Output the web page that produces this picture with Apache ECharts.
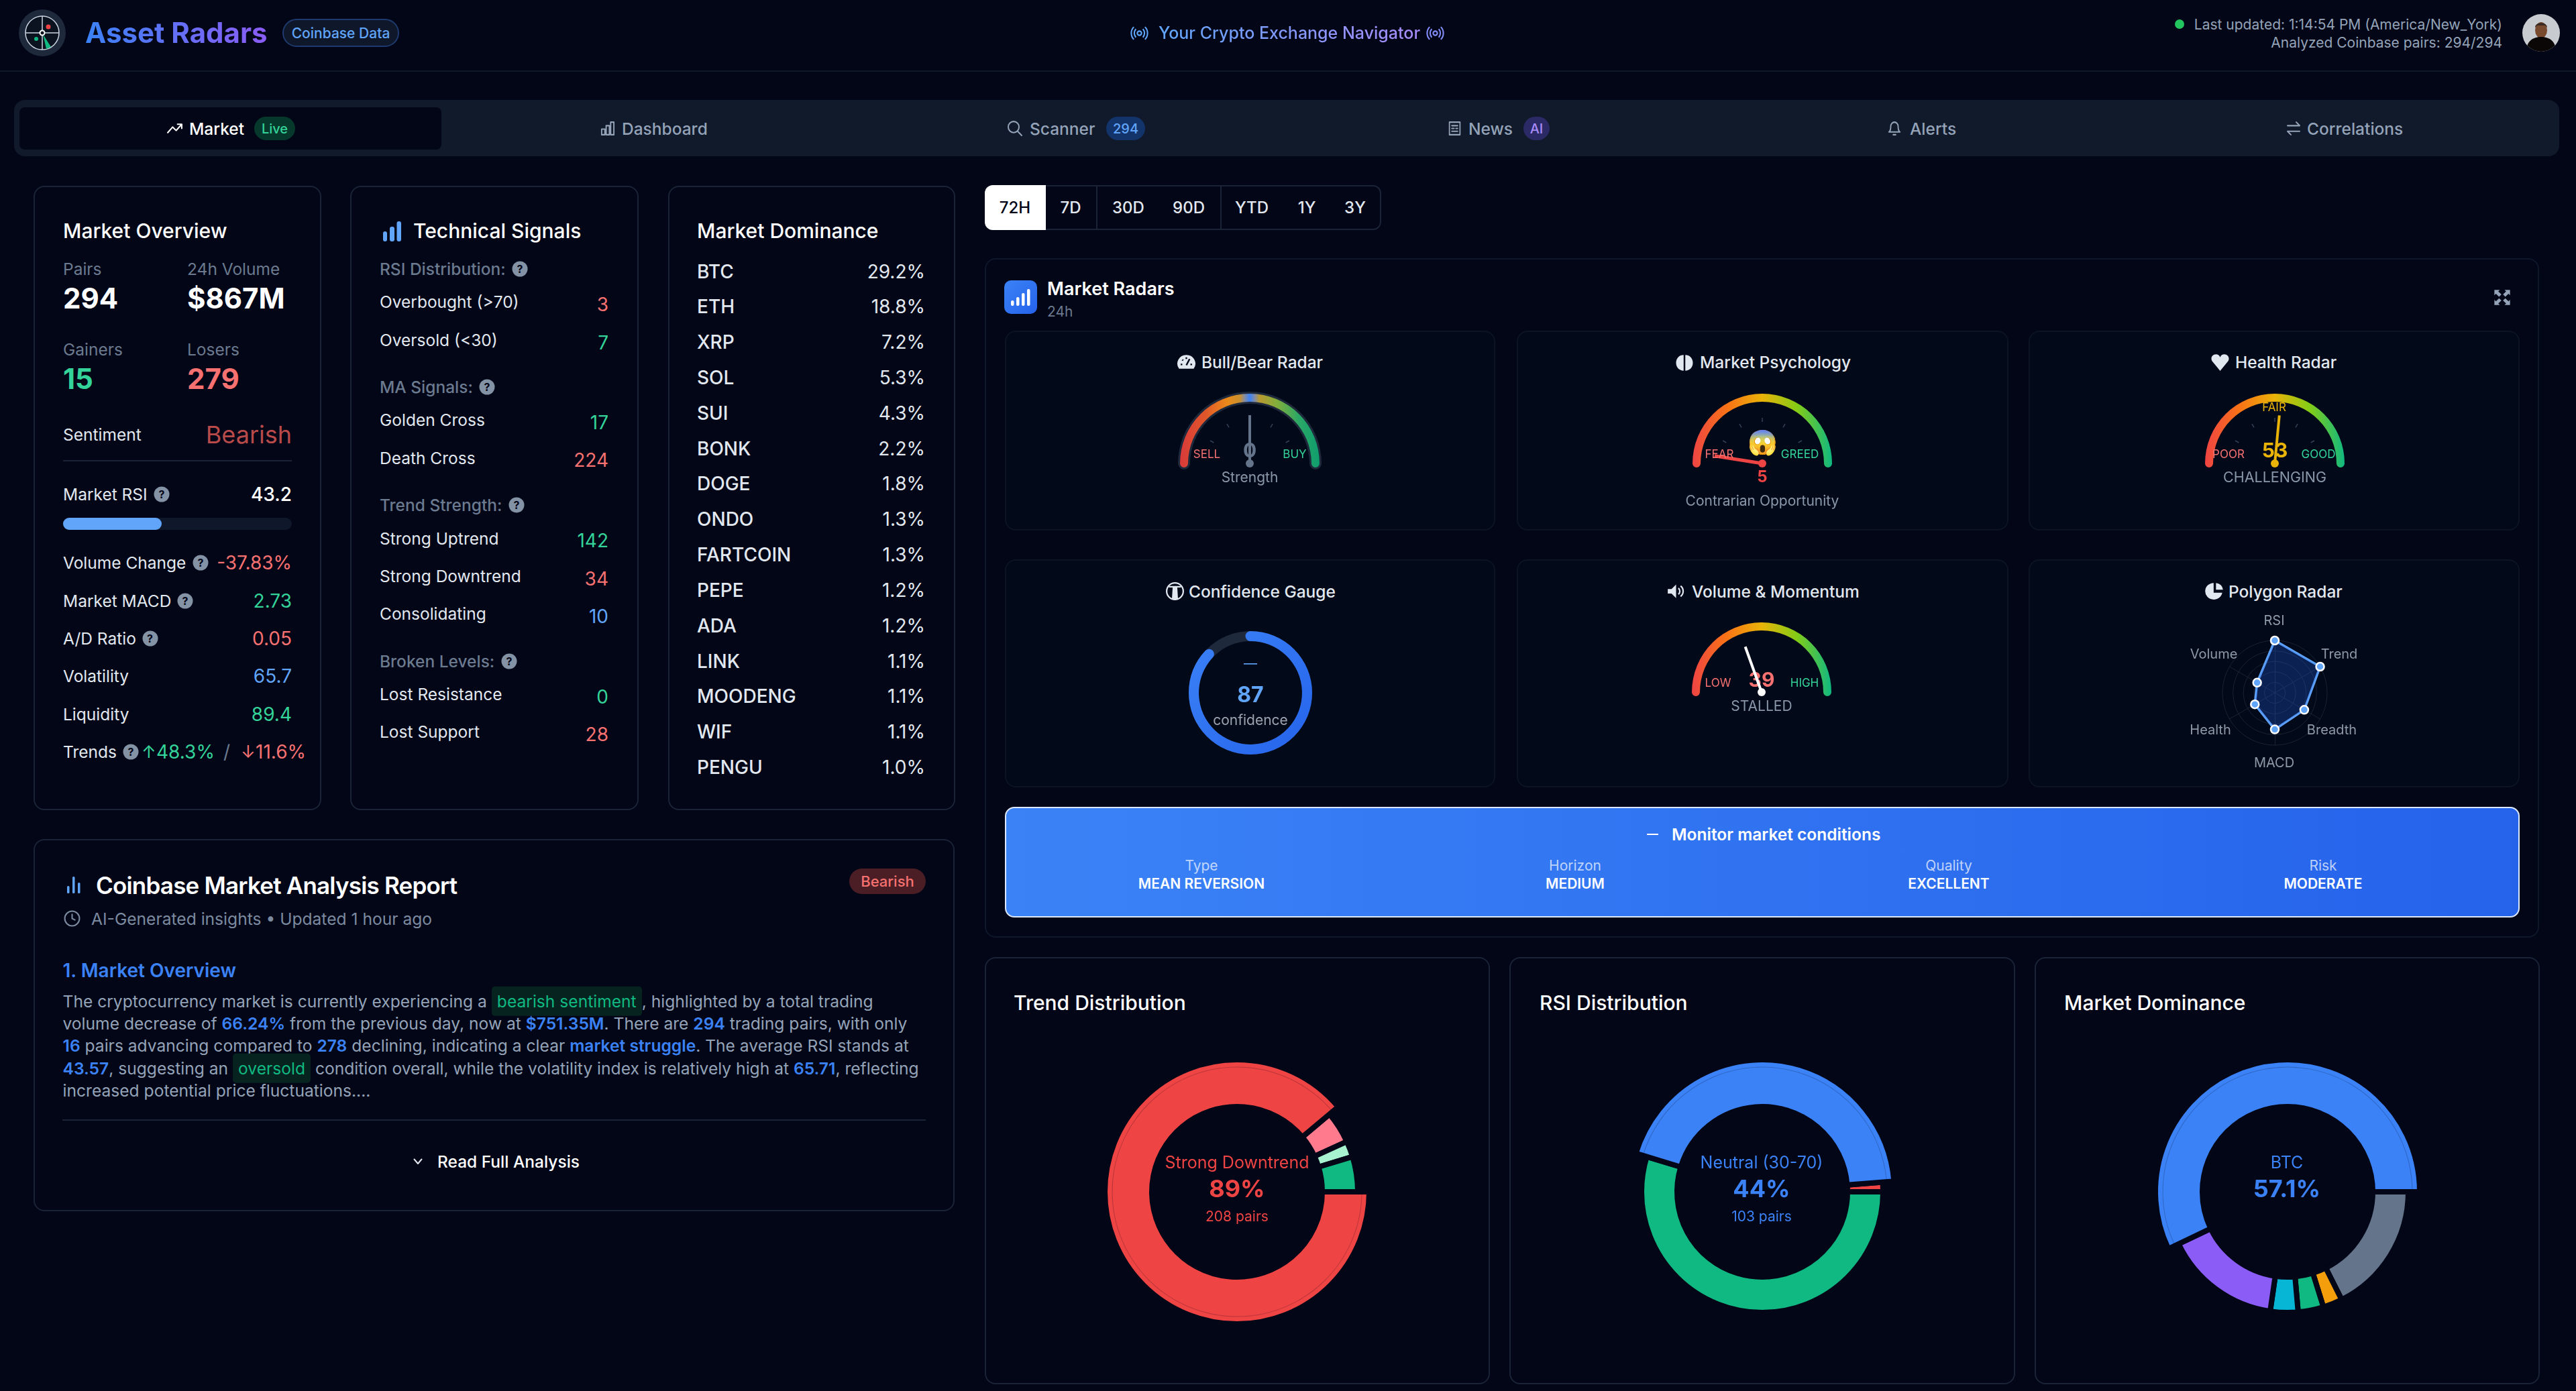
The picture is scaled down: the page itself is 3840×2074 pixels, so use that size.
<!DOCTYPE html>
<html>
<head>
<meta charset="utf-8">
<title>Asset Radars</title>
<script src="https://cdn.jsdelivr.net/npm/echarts@6/dist/echarts.min.js"></script>
<style>
  html, body { margin: 0; padding: 0; background: #020617; }
  body { width: 3840px; height: 2074px; position: relative; overflow: hidden; font-family: Inter, "Noto Sans", sans-serif; color: #e2e8f0; }
  #chrome, #charts { position: absolute; left: 0; top: 0; width: 3840px; height: 2074px; }
  #charts { pointer-events: none; }
  .t { position: absolute; white-space: nowrap; line-height: 1; }
  .box { position: absolute; box-sizing: border-box; }
  .card { border: 2px solid #1a2436; border-radius: 16px; }
  .sub { border: 2px solid #0c1424; border-radius: 16px; background: #020a1a; }
  .help { position: absolute; width: 23px; height: 23px; border-radius: 50%; background: #8492a6; color: #020617; font-size: 16px; font-weight: 700; text-align: center; line-height: 23px; transform: translate(-50%, -50%); }
  .grad { background: linear-gradient(90deg, #3b82f6, #8b5cf6); -webkit-background-clip: text; background-clip: text; color: transparent; }
  .b { color: #3b82f6; font-weight: 600; }
  .g { color: #10b981; background: #07231f; padding: 7px 8px; border-radius: 5px; margin: 0; }
  svg { position: absolute; overflow: visible; }
</style>
</head>
<body>
<div id="chrome"></div>
<div id="charts"></div>
<script>
// ---- data ----
var tabNames = ['Market', 'Dashboard', 'Scanner', 'News', 'Alerts', 'Correlations'];
var rangeNames = ['72H', '7D', '30D', '90D', 'YTD', '1Y', '3Y'];

var overviewLabels = ['Volume Change', 'Market MACD', 'A/D Ratio', 'Volatility', 'Liquidity'];
var overviewValues = ['-37.83%', '2.73', '0.05', '65.7', '89.4'];

var signalLabels = ['Overbought (>70)', 'Oversold (<30)', 'Golden Cross', 'Death Cross', 'Strong Uptrend', 'Strong Downtrend', 'Consolidating', 'Lost Resistance', 'Lost Support'];
var signalValues = [3, 7, 17, 224, 142, 34, 10, 0, 28];

var dominanceCoins = ['BTC', 'ETH', 'XRP', 'SOL', 'SUI', 'BONK', 'DOGE', 'ONDO', 'FARTCOIN', 'PEPE', 'ADA', 'LINK', 'MOODENG', 'WIF', 'PENGU'];
var dominanceShares = ['29.2%', '18.8%', '7.2%', '5.3%', '4.3%', '2.2%', '1.8%', '1.3%', '1.3%', '1.2%', '1.2%', '1.1%', '1.1%', '1.1%', '1.0%'];

var bullBearStrength = 0;
var psychologyValue = 5;
var healthValue = 53;
var confidenceValue = 87;
var volumeValue = 39;

var polygonAxes = ['RSI', 'Volume', 'Health', 'MACD', 'Breadth', 'Trend'];
var polygonValues = [100, 39, 44, 70, 65, 100];

var trendNames = ['Strong Downtrend', 'Downtrend', 'Uptrend', 'Strong Uptrend'];
var trendPairs = [208, 10, 5, 11];
var rsiNames = ['Oversold (<30)', 'Neutral (30-70)', 'Overbought (>70)'];
var rsiPairs = [128, 103, 3];
var shareNames = ['Others', 'SUI', 'SOL', 'XRP', 'ETH', 'BTC'];
var shareValues = [17.6, 2.6, 3.4, 3.7, 15.6, 57.1];

var actionLabels = ['Type', 'Horizon', 'Quality', 'Risk'];
var actionValues = ['MEAN REVERSION', 'MEDIUM', 'EXCELLENT', 'MODERATE'];

// ---- page chrome ----
var chrome = document.getElementById('chrome');
var RED = '#f87171', GREEN = '#34d399', BLUE = '#60a5fa', MUTED = '#6b7a8f';

function box(x, y, x2, y2, cls, css) {
  var d = document.createElement('div');
  d.className = 'box ' + (cls || '');
  d.style.cssText = 'left:' + x + 'px;top:' + y + 'px;width:' + (x2 - x) + 'px;height:' + (y2 - y) + 'px;' + (css || '');
  chrome.appendChild(d);
  return d;
}
// a = l / c / r, y is the vertical middle of the text
function t(x, y, str, size, color, weight, a, css) {
  var d = document.createElement('div');
  d.className = 't';
  var tx = a === 'r' ? '-100%' : a === 'c' ? '-50%' : '0';
  d.style.cssText = 'left:' + x + 'px;top:' + y + 'px;font-size:' + size + 'px;color:' + color + ';font-weight:' + (weight || 400) + ';transform:translate(' + tx + ',-50%);' + (css || '');
  d.innerHTML = str;
  chrome.appendChild(d);
  return d;
}
function help(x, y) {
  var d = document.createElement('div');
  d.className = 'help';
  d.style.left = x + 'px';
  d.style.top = y + 'px';
  d.textContent = '?';
  chrome.appendChild(d);
}
function icon(x, y, w, h, vb, inner) {
  var d = document.createElementNS('http://www.w3.org/2000/svg', 'svg');
  d.setAttribute('viewBox', vb);
  d.setAttribute('preserveAspectRatio', 'none');
  d.style.cssText = 'left:' + x + 'px;top:' + y + 'px;width:' + w + 'px;height:' + h + 'px;';
  d.innerHTML = inner;
  chrome.appendChild(d);
}
function esc(s) { return s.replace(/</g, '&lt;').replace(/>/g, '&gt;'); }

// header
icon(28, 14, 70, 70, '0 0 70 70',
  '<circle cx="35" cy="35" r="35" fill="#1e293b"/><circle cx="35" cy="35" r="25" fill="#0b1220" stroke="#cbd5e1" stroke-width="1.5"/>' +
  '<path d="M10 35H60M35 10V60" stroke="#cbd5e1" stroke-width="1.5"/><path d="M36 37L48 56L41 59Z" fill="#10b981"/>' +
  '<circle cx="44" cy="26" r="3.5" fill="#ef4444"/><circle cx="26" cy="44" r="3" fill="#10b981"/><circle cx="35" cy="35" r="3.5" fill="#0b1220" stroke="#fff" stroke-width="2"/>');
t(127, 49, 'Asset Radars', 42, '', 700, 'l').classList.add('grad');
box(421, 28, 595, 70, '', 'border:2px solid #1e3a6e;border-radius:21px;background:#0f172a;');
t(508, 49, 'Coinbase Data', 21, BLUE, 500, 'c');
var wave = '<path d="M12 12m-3 0a3 3 0 1 0 6 0a3 3 0 1 0-6 0M7 6a9 9 0 0 0 0 12M17 6a9 9 0 0 1 0 12M4 3a13 13 0 0 0 0 18M20 3a13 13 0 0 1 0 18" fill="none" stroke-width="2" ';
icon(1686, 37, 25, 25, '0 0 24 24', wave + 'stroke="#60a5fa"/>');
icon(2127, 37, 25, 25, '0 0 24 24', wave + 'stroke="#818cf8"/>');
t(1727, 49, 'Your Crypto Exchange Navigator', 25, '', 500, 'l', 'background:linear-gradient(90deg,#60a5fa,#a78bfa);-webkit-background-clip:text;background-clip:text;color:transparent;line-height:1.3;');
box(3242, 29, 3256, 43, '', 'border-radius:50%;background:#22c55e;');
t(3730, 36, 'Last updated: 1:14:54 PM (America/New_York)', 21, '#94a3b8', 400, 'r');
t(3730, 63, 'Analyzed Coinbase pairs: 294/294', 21, '#94a3b8', 400, 'r');
icon(3760, 21, 56, 56, '0 0 56 56', '<defs><clipPath id="av"><circle cx="28" cy="28" r="28"/></clipPath></defs><g clip-path="url(#av)"><rect width="56" height="56" fill="#c8ccd0"/><ellipse cx="28" cy="24" rx="9" ry="12" fill="#7a4a2e"/><path d="M19 20c0-9 18-9 18 0l-3-3H22z" fill="#3a2a22"/><path d="M6 56c0-16 10-22 22-22s22 6 22 22z" fill="#0a0706"/></g>');
box(0, 105, 3840, 107, '', 'background:#111827;');

// tabs
box(21, 149, 3815, 233, '', 'background:#111a2b;border-radius:16px;');
box(29, 160, 658, 223, '', 'background:#020617;border-radius:8px;');
var tabColor = '#94a3b8';
var tabX = [282, 927, 1535, 2189, 2847, 3439];
for (var i = 0; i < tabNames.length; i++) {
  t(tabX[i], 192, tabNames[i], 24.5, i === 0 ? '#fff' : tabColor, 500, 'l');
}
var line = 'fill="none" stroke-width="2" stroke-linecap="round" stroke-linejoin="round" ';
icon(248, 179, 25, 25, '0 0 24 24', '<path d="M2 18l7-8 5 5 8-9M16 6h6v6" ' + line + 'stroke="#fff"/>');
icon(894, 179, 23, 25, '0 0 24 24', '<path d="M3 21V13h5v8zM10 21V8h5v13zM17 21V3h5v18z" ' + line + 'stroke="' + tabColor + '"/>');
icon(1501, 179, 24, 25, '0 0 24 24', '<circle cx="10" cy="10" r="8" ' + line + 'stroke="' + tabColor + '"/><path d="M16 16l6 6" ' + line + 'stroke="' + tabColor + '"/>');
icon(2158, 179, 21, 25, '0 0 24 24', '<path d="M3 3h18v18H3zM7 8h10M7 12h4M14 12h3M7 16h10" ' + line + 'stroke="' + tabColor + '"/>');
icon(2813, 179, 22, 25, '0 0 24 24', '<path d="M6 9a6 6 0 0 1 12 0c0 7 3 8 3 8H3s3-1 3-8M10 21h4" ' + line + 'stroke="' + tabColor + '"/>');
icon(3407, 179, 24, 25, '0 0 24 24', '<path d="M3 8h18l-5-5M21 16H3l5 5" ' + line + 'stroke="' + tabColor + '"/>');
box(379, 174, 440, 209, '', 'background:#06382c;border-radius:18px;');
t(409.5, 192, 'Live', 20, GREEN, 500, 'c');
box(1649, 174, 1707, 209, '', 'background:#13336b;border-radius:18px;');
t(1678, 192, '294', 20, BLUE, 500, 'c');
box(2271, 174, 2310, 209, '', 'background:#2c2a66;border-radius:18px;');
t(2290.5, 192, 'AI', 20, '#a78bfa', 500, 'c');

// market overview card
box(50, 277, 479, 1208, 'card');
t(94, 344, 'Market Overview', 30, '#fff', 500);
t(94, 401, 'Pairs', 24.5, MUTED);
t(279, 401, '24h Volume', 24.5, MUTED);
t(94, 445, '294', 42, '#fff', 700);
t(279, 445, '$867M', 42, '#fff', 700);
t(94, 521, 'Gainers', 24.5, MUTED);
t(279, 521, 'Losers', 24.5, MUTED);
t(94, 565, '15', 42, GREEN, 700);
t(279, 565, '279', 42, RED, 700);
t(94, 648, 'Sentiment', 24.5, '#e2e8f0');
t(435, 648, 'Bearish', 36, '#b94a4a', 400, 'r');
box(94, 686, 435, 688, '', 'background:#1a2436;');
t(94, 737, 'Market RSI', 24.5, '#e2e8f0');
help(241, 737);
t(435, 737, '43.2', 28, '#fff', 500, 'r');
box(94, 772, 435, 790, '', 'background:#0f172a;border-radius:9px;');
box(94, 772, 241, 790, '', 'background:#60a5fa;border-radius:9px;');
var overviewY = [839, 896, 952, 1008, 1065];
var overviewColors = [RED, GREEN, RED, BLUE, GREEN];
for (i = 0; i < overviewLabels.length; i++) {
  t(94, overviewY[i], overviewLabels[i], 24.5, '#e2e8f0');
  t(435, overviewY[i], overviewValues[i], 28, overviewColors[i], 400, 'r');
}
help(299, 839); help(276, 896); help(223.5, 952); help(195, 1121);
t(94, 1121, 'Trends', 24.5, '#e2e8f0');
t(211, 1121, '↑', 26, GREEN);
t(233, 1121, '48.3%', 28, GREEN);
t(338, 1121, '/', 28, MUTED, 400, 'c');
t(359, 1121, '↓', 26, RED);
t(381, 1121, '11.6%', 28, RED);

// technical signals card
box(522, 277, 952, 1208, 'card');
icon(571, 330, 27, 30, '0 0 27 30', '<rect x="0" y="15" width="6" height="15" rx="3" fill="#60a5fa"/><rect x="10" y="8" width="7" height="22" rx="3" fill="#60a5fa"/><rect x="20.5" y="0" width="6.5" height="30" rx="3" fill="#60a5fa"/>');
t(616, 344, 'Technical Signals', 30, '#fff', 500);
var signalHeads = ['RSI Distribution:', 'MA Signals:', 'Trend Strength:', 'Broken Levels:'];
var headY = [401, 577, 753, 986];
var headIcon = [775, 726, 770, 759];
for (i = 0; i < signalHeads.length; i++) {
  t(566, headY[i], signalHeads[i], 24.5, MUTED, 500);
  help(headIcon[i], headY[i]);
}
var signalY = [450, 507, 626, 682.5, 802.5, 859, 915, 1035, 1091];
var signalColors = [RED, GREEN, GREEN, RED, GREEN, RED, BLUE, GREEN, RED];
for (i = 0; i < signalLabels.length; i++) {
  t(566, signalY[i], esc(signalLabels[i]), 24.5, '#e2e8f0');
  t(907, signalY[i] + 3.5, String(signalValues[i]), 28, signalColors[i], 400, 'r');
}

// market dominance card
box(996, 277, 1424, 1208, 'card');
t(1039, 344, 'Market Dominance', 30, '#fff', 500);
for (i = 0; i < dominanceCoins.length; i++) {
  var rowY = 404.5 + i * 52.83;
  t(1039, rowY, dominanceCoins[i], 28, '#e2e8f0', 500);
  t(1379, rowY, dominanceShares[i], 28, '#e2e8f0', 400, 'r');
}

// report card
box(50, 1251, 1423, 1806, 'card');
icon(100, 1307, 20, 25, '0 0 20 25', '<rect x="0" y="14" width="3.5" height="11" rx="1.5" fill="#60a5fa"/><rect x="8" y="0" width="3.5" height="25" rx="1.5" fill="#60a5fa"/><rect x="16" y="9" width="3.5" height="16" rx="1.5" fill="#60a5fa"/>');
t(143, 1319.5, 'Coinbase Market Analysis Report', 35, '#fff', 600, 'l', 'letter-spacing:-0.8px;');
box(1266, 1295, 1380, 1333, '', 'background:#4a1e24;border-radius:19px;');
t(1323, 1314, 'Bearish', 22, RED, 500, 'c');
icon(95, 1357, 25, 25, '0 0 24 24', '<circle cx="12" cy="12" r="10.5" ' + line + 'stroke="#7c8aa0"/><path d="M12 6v6l4 2" ' + line + 'stroke="#7c8aa0"/>');
t(136, 1369.5, 'AI-Generated insights • Updated 1 hour ago', 24.6, '#7c8aa0');
t(93.5, 1446.5, '1. Market Overview', 28, '#3b82f6', 600);
var reportLines = [
  'The cryptocurrency market is currently experiencing a <span class="g">bearish sentiment</span>, highlighted by a total trading',
  'volume decrease of <span class="b">66.24%</span> from the previous day, now at <span class="b">$751.35M</span>. There are <span class="b">294</span> trading pairs, with only',
  '<span class="b">16</span> pairs advancing compared to <span class="b">278</span> declining, indicating a clear <span class="b">market struggle</span>. The average RSI stands at',
  '<span class="b">43.57</span>, suggesting an <span class="g">oversold</span> condition overall, while the volatility index is relatively high at <span class="b">65.71</span>, reflecting',
  'increased potential price fluctuations....'
];
var reportY = [1492.7, 1526, 1559.3, 1592.7, 1626];
for (i = 0; i < reportLines.length; i++) {
  t(93.5, reportY[i], reportLines[i], 24.6, '#94a3b8');
}
box(93, 1669, 1380, 1671, '', 'background:#1a2436;');
icon(616, 1727, 14, 10, '0 0 14 10', '<path d="M1.5 1.5L7 8l5.5-6.5" ' + line + 'stroke="#e2e8f0"/>');
t(652, 1732, 'Read Full Analysis', 24.5, '#fff', 500);

// time range buttons
box(1468, 276, 2059, 343, '', 'border:2px solid #1a2436;border-radius:12px;');
box(1468, 276, 1559, 343, '', 'background:#fff;border-radius:12px 0 0 12px;');
box(1634, 277, 1636, 342, '', 'background:#1a2436;');
box(1819, 277, 1821, 342, '', 'background:#1a2436;');
var rangeX = [1513, 1596, 1682, 1772, 1866, 1948, 2020];
for (i = 0; i < rangeNames.length; i++) {
  t(rangeX[i], 310, rangeNames[i], 24, i === 0 ? '#020617' : '#e2e8f0', 500, 'c');
}

// market radars panel
box(1468, 385, 3785, 1398, '', 'border:2px solid #0f172a;border-radius:16px;');
box(1497, 418, 1546, 468, '', 'background:linear-gradient(135deg,#3b82f6,#2563eb);border-radius:10px;');
icon(1507, 431, 29, 25, '0 0 29 25', '<rect x="0" y="17" width="4.5" height="8" rx="2" fill="#fff"/><rect x="8" y="12" width="4.5" height="13" rx="2" fill="#fff"/><rect x="16" y="6" width="4.5" height="19" rx="2" fill="#fff"/><rect x="24" y="0" width="4.5" height="25" rx="2" fill="#fff"/>');
t(1561, 430, 'Market Radars', 27, '#fff', 600);
t(1561, 464, '24h', 21, MUTED);
icon(3716, 430, 28, 27, '0 0 24 24', '<path d="M2 2h7L7 4l4 4-3 3-4-4-2 2zM22 2v7l-2-2-4 4-3-3 4-4-2-2zM2 22v-7l2 2 4-4 3 3-4 4 2 2zM22 22h-7l2-2-4-4 3-3 4 4 2-2z" fill="#94a3b8"/>');

var subX = [[1498, 2229], [2261, 2994], [3024, 3756]];
var subY = [[493, 791], [834, 1174]];
var subTitles = [['Bull/Bear Radar', 'Market Psychology', 'Health Radar'], ['Confidence Gauge', 'Volume &amp; Momentum', 'Polygon Radar']];
var titleX = [[1791, 2534, 3332], [1772, 2522, 3322]];
var titleY = [540, 882];
var titleColor = '#e2e8f0';
for (var r = 0; r < 2; r++) {
  for (var c = 0; c < 3; c++) {
    box(subX[c][0], subY[r][0], subX[c][1], subY[r][1], 'sub');
    t(titleX[r][c], titleY[r], subTitles[r][c], 24.5, titleColor, 500);
  }
}
var fill = 'fill="' + titleColor + '"';
icon(1754, 527, 29, 28, '0 0 24 24', '<path d="M12 2a11 11 0 0 0-9 17.5h18A11 11 0 0 0 12 2z" ' + fill + '/><path d="M12 15l4-8M5 14h2M17 14h2M7 8l1 1M12 5v2" stroke="#020617" stroke-width="2"/>');
icon(2496, 527, 30, 28, '0 0 24 24', '<path d="M11 2C6 2 2 6 2 12s4 10 9 10zM13 2c5 0 9 4 9 10s-4 10-9 10z" ' + fill + '/>');
icon(3295, 527, 29, 27, '0 0 24 24', '<path d="M12 23L2 10C0 6 2 1 7 1c2 0 4 1 5 4 1-3 3-4 5-4 5 0 7 5 5 9z" ' + fill + '/>');
icon(1738, 868, 27, 27, '0 0 24 24', '<circle cx="12" cy="12" r="11" fill="none" stroke="' + titleColor + '" stroke-width="2"/><path d="M4 6h16M10 6h4l1 16H9z" ' + fill + ' stroke="' + titleColor + '" stroke-width="2"/>');
icon(2485, 868, 27, 27, '0 0 24 24', '<path d="M1 9h5l6-6v18l-6-6H1z" ' + fill + '/><path d="M15 8a5 5 0 0 1 0 8M18 5a9 9 0 0 1 0 14" fill="none" stroke="' + titleColor + '" stroke-width="2"/>');
icon(3287, 868, 28, 27, '0 0 24 24', '<path d="M11 1a11 11 0 1 0 11 13H11zM14 1v9h9A10 10 0 0 0 14 1z" ' + fill + '/>');

// action banner
box(1498, 1203, 3756, 1368, '', 'background:linear-gradient(90deg,#3b82f6,#2563eb);border:2px solid #dbe7fb;border-radius:14px;');
box(2455, 1243, 2472, 1245, '', 'background:#fff;');
t(2492, 1244, 'Monitor market conditions', 24.5, '#fff', 600);
var actionX = [1791, 2348, 2905, 3463];
for (i = 0; i < actionLabels.length; i++) {
  t(actionX[i], 1290, actionLabels[i], 21, 'rgba(255,255,255,0.7)', 400, 'c');
  t(actionX[i], 1317, actionValues[i], 21, '#fff', 600, 'c');
}

// distribution cards
var distX = [[1468, 2221], [2250, 3004], [3033, 3786]];
var distTitles = ['Trend Distribution', 'RSI Distribution', 'Market Dominance'];
var distTitleX = [1511, 2295, 3077];
for (i = 0; i < 3; i++) {
  box(distX[i][0], 1427, distX[i][1], 2064, 'card');
  t(distTitleX[i], 1495, distTitles[i], 30, '#fff', 500);
}

// ---- charts, all on one canvas over the page ----
var chart = echarts.init(document.getElementById('charts'), null, { width: 3840, height: 2074 });
var LG = echarts.graphic.LinearGradient;

function stops(list) {
  return new LG(0, 0, 1, 0, list.map(function (s) { return { offset: s[0], color: s[1] }; }));
}
var heat = stops([[0, '#ef4444'], [0.25, '#f97316'], [0.5, '#eab308'], [0.75, '#84cc16'], [1, '#10b981']]);
var bullHeat = stops([[0, '#d93a3a'], [0.18, '#e0562a'], [0.34, '#ea8a1a'], [0.43, '#c9902f'], [0.46, '#8a8d9a'], [0.5, '#3b82f6'], [0.54, '#8a8d9a'], [0.57, '#b99a30'], [0.7, '#7fae3c'], [0.85, '#2ba866'], [1, '#0f9d6e']]);

function dial(cx, cy, min, max, value, band, needle, needleW, detail, titleText, titleY, titleSize) {
  return {
    type: 'gauge', center: [cx, cy], radius: 104, min: min, max: max,
    startAngle: 180, endAngle: 0,
    axisLine: { roundCap: true, lineStyle: { width: 12, color: [[1, band]] } },
    axisTick: { show: false }, splitLine: { show: false }, axisLabel: { show: false },
    pointer: { icon: 'rect', length: 72, width: needleW, itemStyle: { color: needle } },
    anchor: { show: true, showAbove: true, size: 12, itemStyle: { color: needle } },
    title: { offsetCenter: [0, titleY], fontSize: titleSize || 21, color: '#8a97a9', fontFamily: 'Inter' },
    detail: Object.assign({ fontFamily: 'Inter', fontWeight: 700 }, detail),
    data: [{ value: value, name: titleText }],
    z: 5
  };
}
function dialTicks(cx, cy) {
  return {
    type: 'gauge', center: [cx, cy], radius: 78, min: 0, max: 100, startAngle: 150, endAngle: 30, splitNumber: 4,
    axisLine: { show: false }, axisTick: { show: false }, axisLabel: { show: false },
    splitLine: { length: 6, distance: 0, lineStyle: { color: '#334155', width: 1.5 } },
    pointer: { show: false }, anchor: { show: false }, title: { show: false }, detail: { show: false },
    data: [], z: 3
  };
}
function donut(cx, names, values, colors) {
  return {
    type: 'pie', center: [cx, 1777], radius: [127, 180], startAngle: 0, clockwise: true,
    label: { show: false }, labelLine: { show: false },
    itemStyle: { borderColor: '#020617', borderWidth: 8 },
    emphasis: { scale: true, scaleSize: 17 },
    data: names.map(function (n, k) {
      return {
        name: n, value: values[k],
        itemStyle: { color: colors[k] },
        emphasis: { itemStyle: { color: colors[k], borderColor: '#020617', borderWidth: 8 } }
      };
    })
  };
}
// faint hairline inside the raised slice of a donut
function donutHairline(cx, names, values, hot) {
  return {
    type: 'pie', center: [cx, 1777], radius: [185.5, 186.5], startAngle: 0, clockwise: true, silent: true,
    label: { show: false }, labelLine: { show: false }, z: 4,
    data: names.map(function (n, k) {
      return { name: n, value: values[k], itemStyle: { color: k === hot ? 'rgba(2,6,23,0.22)' : 'transparent' } };
    })
  };
}
function txt(x, y, str, size, color, weight) {
  return {
    type: 'text', x: x, y: y, z: 10, silent: true,
    style: { text: str, fontSize: size, fill: color, fontWeight: weight || 400, fontFamily: 'Inter', align: 'center', verticalAlign: 'middle' }
  };
}

var series = [
  // grey rim behind the bull/bear band
  {
    type: 'gauge', center: [1863, 691], radius: 107, min: 0, max: 100, startAngle: 180, endAngle: 0,
    axisLine: { roundCap: true, lineStyle: { width: 18, color: [[1, '#1e293b']] } },
    axisTick: { show: false }, splitLine: { show: false }, axisLabel: { show: false },
    pointer: { show: false }, anchor: { show: false }, title: { show: false }, detail: { show: false }, data: [], z: 2
  },
  dial(1863, 691, -100, 100, bullBearStrength, bullHeat, '#64748b', 4,
    { offsetCenter: [0, -18], fontSize: 30, color: '#64748b' }, 'Strength', 21.5),
  dialTicks(1863, 691),
  dial(2627, 691, 0, 100, psychologyValue, heat, '#ef4444', 5,
    { offsetCenter: [0, 21], fontSize: 24, color: '#ef4444' }, 'Contrarian Opportunity', 57),
  dialTicks(2627, 691),
  dial(3391, 691, 0, 100, healthValue, heat, '#eab308', 4,
    { offsetCenter: [0, -18], fontSize: 30, color: '#eab308' }, 'CHALLENGING', 22, 21.5),
  dialTicks(3391, 691),
  dial(2626, 1032, 0, 100, volumeValue, heat, '#fff', 4,
    { offsetCenter: [0, -17], fontSize: 30, color: '#f87171' }, 'STALLED', 22),
  // confidence ring
  {
    type: 'gauge', center: [1864, 1033], radius: 92, min: 0, max: 100, startAngle: 90, endAngle: -270,
    axisLine: { lineStyle: { width: 15, color: [[1, '#1e293b']] } },
    progress: { show: true, width: 15, roundCap: true, itemStyle: { color: new LG(0, 0, 1, 1, [{ offset: 0, color: '#3b82f6' }, { offset: 1, color: '#2563eb' }]) } },
    axisTick: { show: false }, splitLine: { show: false }, axisLabel: { show: false },
    pointer: { show: false }, anchor: { show: false },
    title: { offsetCenter: [0, 42], fontSize: 21, color: '#9ca3af', fontFamily: 'Inter' },
    detail: { offsetCenter: [0, 4], fontSize: 32, fontWeight: 700, color: '#60a5fa', fontFamily: 'Inter' },
    data: [{ value: confidenceValue, name: 'confidence' }]
  },
  // polygon radar
  {
    type: 'radar', radarIndex: 0, symbol: 'circle', symbolSize: 12,
    lineStyle: { color: '#60a5fa', width: 3.5 },
    itemStyle: { color: '#60a5fa', borderColor: '#fff', borderWidth: 2.5 },
    areaStyle: { color: 'rgba(37,99,235,0.38)' },
    data: [{ value: polygonValues, name: 'Market' }]
  },
  donut(1844, trendNames, trendPairs, ['#ef4444', '#ff7a8c', '#a7f3d0', '#10b981']),
  donut(2627, rsiNames, rsiPairs, ['#10b981', '#3b82f6', '#ef4444']),
  donut(3410, shareNames, shareValues, ['#64748b', '#f59e0b', '#10b981', '#06b6d4', '#8b5cf6', '#3b82f6']),
  donutHairline(1844, trendNames, trendPairs, 0),
  donutHairline(2627, rsiNames, rsiPairs, 1),
  donutHairline(3410, shareNames, shareValues, 5)
];

var labels = [
  txt(1799, 678, 'SELL', 17, RED), txt(1930, 678, 'BUY', 17, GREEN),
  txt(2563, 678, 'FEAR', 17, RED), txt(2683, 678, 'GREED', 17, GREEN),
  txt(2627, 661, '😱', 36, '#f59e0b'),
  txt(3322, 678, 'POOR', 17, RED), txt(3456, 678, 'GOOD', 17, GREEN), txt(3390, 608, 'FAIR', 17, '#eab308'),
  txt(2561, 1019, 'LOW', 17, RED), txt(2690, 1019, 'HIGH', 17, GREEN),
  txt(1864, 990, '—', 20, '#60a5fa'),
  txt(3390, 926, 'RSI', 20, '#8e99a8'), txt(3487, 976, 'Trend', 20, '#8e99a8'), txt(3476, 1089, 'Breadth', 20, '#8e99a8'),
  txt(3390, 1137.5, 'MACD', 20, '#8e99a8'), txt(3295, 1089, 'Health', 20, '#8e99a8'), txt(3300, 976, 'Volume', 20, '#8e99a8'),
  // donut centres
  txt(1844, 1734, 'Strong Downtrend', 25, '#ef4444'), txt(1844, 1774, '89%', 36, '#ef4444', 700), txt(1844, 1815, '208 pairs', 21, '#ef4444'),
  txt(2626, 1734, 'Neutral (30-70)', 25, '#3b82f6'), txt(2626, 1774, '44%', 36, '#3b82f6', 700), txt(2626, 1815, '103 pairs', 21, '#3b82f6'),
  txt(3409, 1734, 'BTC', 25, '#3b82f6'), txt(3409, 1774, '57.1%', 36, '#3b82f6', 700)
];

chart.setOption({
  animation: false,
  backgroundColor: 'transparent',
  radar: {
    center: [3391, 1033], radius: 78, shape: 'circle', splitNumber: 5,
    indicator: polygonAxes.map(function (n) { return { name: n, max: 100 }; }),
    axisName: { show: false },
    axisLine: { lineStyle: { color: '#1a2334' } },
    splitLine: { lineStyle: { color: '#1a2334' } },
    splitArea: { show: false }
  },
  graphic: labels,
  series: series
});
// the largest slice of each donut sits in its hover state in the reference
chart.dispatchAction({ type: 'highlight', seriesIndex: 10, dataIndex: 0 });
chart.dispatchAction({ type: 'highlight', seriesIndex: 11, dataIndex: 1 });
chart.dispatchAction({ type: 'highlight', seriesIndex: 12, dataIndex: 5 });
</script>
</body>
</html>
